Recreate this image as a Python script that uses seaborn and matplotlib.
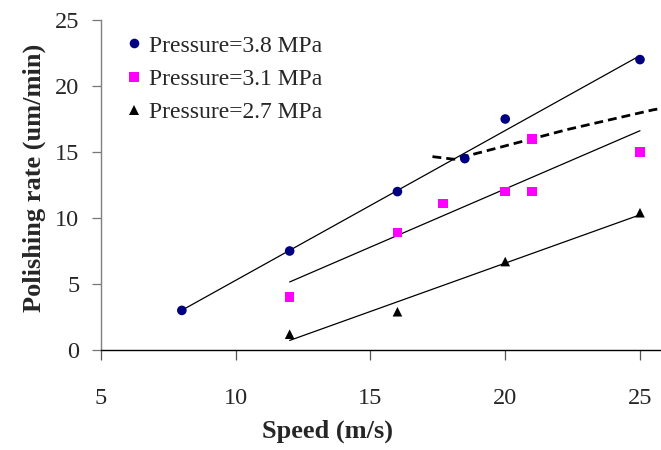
import numpy as np
import pandas as pd
import matplotlib
matplotlib.use('Agg')
import matplotlib.pyplot as plt
import seaborn as sns

# du lieu doc tu hinh
speed_38 = [8, 12, 16, 18.5, 20, 25]
rate_38 = [3.0, 7.5, 12.0, 14.5, 17.5, 22.0]

speed_31 = [12, 16, 17.7, 20, 21, 21, 25]
rate_31 = [4.0, 8.9, 11.1, 12.0, 12.0, 16.0, 15.0]

speed_27 = [12, 16, 20, 25]
rate_27 = [1.2, 2.9, 6.7, 10.4]

# duong net dut
dash_x = [17.3, 18.1, 19.7, 22.3, 25.5, 25.8]
dash_y = [14.65, 14.45, 15.3, 16.7, 18.2, 18.3]

labels = ['Pressure=3.8 MPa', 'Pressure=3.1 MPa', 'Pressure=2.7 MPa']
colors = ['#000080', '#FF00FF', '#000000']
markers = ['o', 's', '^']
x_ticks = [5, 10, 15, 20, 25]
y_ticks = [0, 5, 10, 15, 20, 25]

df = pd.concat([
    pd.DataFrame({'speed': speed_38, 'rate': rate_38, 'group': labels[0]}),
    pd.DataFrame({'speed': speed_31, 'rate': rate_31, 'group': labels[1]}),
    pd.DataFrame({'speed': speed_27, 'rate': rate_27, 'group': labels[2]}),
], ignore_index=True)

sns.set_theme(style='white')
plt.rcParams['font.family'] = ['Liberation Serif', 'DejaVu Serif']

fig = plt.figure(figsize=(6.61, 4.5), dpi=100)
ax = fig.add_axes([101 / 661, 100 / 450, 560 / 661, 330 / 450])

# duong xu huong
for lab in labels:
    sub = df[df['group'] == lab]
    sns.regplot(data=sub, x='speed', y='rate', scatter=False, ci=None,
                truncate=True, color='black', line_kws={'lw': 0.9}, ax=ax)

ax.plot(dash_x, dash_y, color='black', lw=2.0, dashes=(3.2, 1.8))

sns.scatterplot(data=df, x='speed', y='rate', hue='group', style='group',
                hue_order=labels, style_order=labels,
                palette=dict(zip(labels, colors)),
                markers=dict(zip(labels, markers)),
                s=48, edgecolor='none', linewidth=0, ax=ax, zorder=5)

ax.set_xlim(5, 25.78)
ax.set_ylim(0, 25)
ax.set_xticks(x_ticks)
ax.set_yticks(y_ticks)
ax.tick_params(axis='x', direction='out', length=7, width=0.9, color='#555555',
               pad=20, labelsize=17.5, bottom=True)
ax.tick_params(axis='y', direction='out', length=6.5, width=0.9, color='#777777',
               pad=9, labelsize=17.5, left=True)

for s in ['top', 'right']:
    ax.spines[s].set_visible(False)
ax.spines['left'].set_color('#808080')
ax.spines['bottom'].set_color('black')
ax.spines['left'].set_linewidth(1.0)
ax.spines['bottom'].set_linewidth(1.0)

ax.set_xlabel('Speed (m/s)', fontsize=19, fontweight='bold')
ax.set_ylabel('Polishing rate (um/min)', fontsize=19, fontweight='bold')
ax.xaxis.set_label_coords((328 - 101) / 560, -(420 - 350) / 330)
ax.yaxis.set_label_coords(-(101 - 46) / 560, (350 - 178) / 330)

handles, _ = ax.get_legend_handles_labels()
ax.legend(handles=handles, labels=labels, loc='upper left',
          bbox_to_anchor=(127 / 661, 1 - 35 / 450), bbox_transform=fig.transFigure,
          frameon=False, fontsize=17, handlelength=0.6, handletextpad=0.35,
          labelspacing=0.5, borderpad=0, borderaxespad=0, markerscale=1.0)

fig.savefig('out.png', dpi=100)
